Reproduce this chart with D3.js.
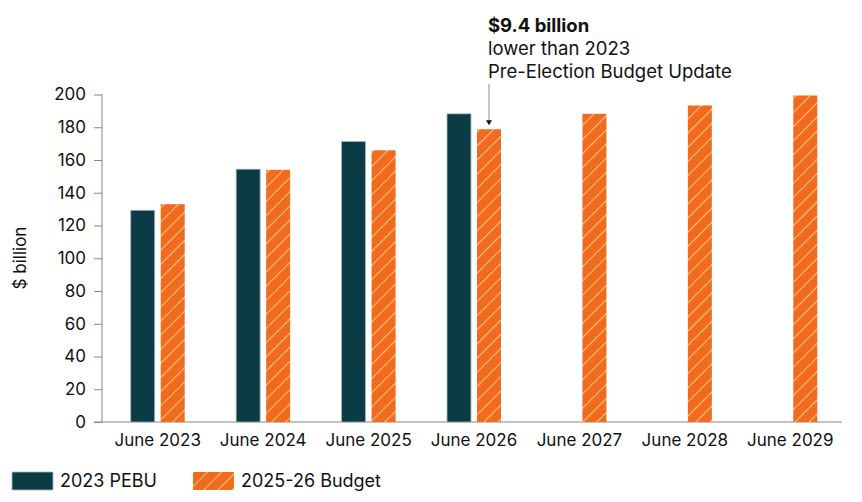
<!DOCTYPE html>
<html><head><meta charset="utf-8">
<script src="https://cdn.jsdelivr.net/npm/d3@7"></script>
<style>
body{margin:0;background:#fff;}
svg{display:block;font-family:Inter,"Noto Sans",sans-serif;}
</style></head><body>
<svg id="c" width="862" height="502"></svg>
<script>
const categories = ["June 2023","June 2024","June 2025","June 2026","June 2027","June 2028","June 2029"];
const pebu = [129.3, 154.4, 171.3, 188.2, null, null, null];
const budget = [133.0, 154.0, 165.9, 178.8, 188.2, 193.3, 199.4];
const yTicks = [0,20,40,60,80,100,120,140,160,180,200];
const seriesNames = ["2023 PEBU","2025-26 Budget"];

const DARK = "#0b3c46", ORANGE = "#f26a1b", STRIPE = "#f8c08c";
const svg = d3.select("#c");
const defs = svg.append("defs");
const pat = defs.append("pattern").attr("id","hatch").attr("patternUnits","userSpaceOnUse")
  .attr("width",10).attr("height",10).attr("patternTransform","rotate(45)");
pat.append("rect").attr("width",10).attr("height",10).attr("fill",ORANGE);
pat.append("line").attr("x1",0).attr("y1",0).attr("x2",0).attr("y2",10).attr("stroke",STRIPE).attr("stroke-width",2.2);

const x = d3.scaleBand().domain(categories).range([105,843]);
const y = d3.scaleLinear().domain([0,200]).range([422,94.5]);
const bw = 24, gap = 6;

// y axis
const ya = svg.append("g").attr("transform","translate(102,0)")
  .call(d3.axisLeft(y).tickValues(yTicks).tickSize(8).tickPadding(8));
ya.select(".domain").attr("stroke","#888").attr("d","M0,94.5V422");
ya.selectAll(".tick line").attr("stroke","#888");
ya.selectAll("text").attr("font-size",17).attr("fill","#111").attr("font-family","Inter,sans-serif");

// x axis
const xa = svg.append("g").attr("transform","translate(0,422)")
  .call(d3.axisBottom(x).tickSize(0).tickPadding(12));
xa.select(".domain").attr("stroke","#888").attr("d","M94,0H842");
xa.selectAll("text").attr("font-size",17).attr("fill","#111").attr("font-family","Inter,sans-serif");

// bars
const cx = c => x(c) + x.bandwidth()/2;
svg.append("g").selectAll("rect").data(categories.map((c,i)=>({c,v:pebu[i]})).filter(d=>d.v!=null))
  .join("rect")
  .attr("x",d=>cx(d.c)-gap/2-bw).attr("width",bw)
  .attr("y",d=>y(d.v)).attr("height",d=>y(0)-y(d.v))
  .attr("fill",DARK).attr("stroke","#a7babd").attr("stroke-width",0.8);
svg.append("g").selectAll("rect").data(categories.map((c,i)=>({c,v:budget[i]})))
  .join("rect")
  .attr("x",d=>cx(d.c)+gap/2).attr("width",bw)
  .attr("y",d=>y(d.v)).attr("height",d=>y(0)-y(d.v))
  .attr("fill","url(#hatch)");

// y label
svg.append("text").attr("transform","translate(26,258) rotate(-90)")
  .attr("text-anchor","middle").attr("font-size",17).attr("fill","#111").text("$ billion");

// annotation
const ax = cx("June 2026")+gap/2+bw/2;
svg.append("line").attr("x1",ax).attr("x2",ax).attr("y1",84).attr("y2",y(budget[3])-8)
  .attr("stroke","#b5b5b5").attr("stroke-width",1.5);
svg.append("path").attr("d",`M${ax-3},${y(budget[3])-9}L${ax+3},${y(budget[3])-9}L${ax},${y(budget[3])-4}Z`).attr("fill","#111");
const ann = svg.append("text").attr("x",488).attr("font-size",18.5).attr("fill","#111");
ann.append("tspan").attr("x",488).attr("y",32).attr("font-weight","bold").text("$9.4 billion");
ann.append("tspan").attr("x",488).attr("y",55).text("lower than 2023");
ann.append("tspan").attr("x",488).attr("y",78).text("Pre-Election Budget Update");

// legend
const lg = svg.append("g");
lg.append("rect").attr("x",12).attr("y",472).attr("width",41).attr("height",18).attr("fill",DARK).attr("stroke","#a7babd").attr("stroke-width",0.8);
lg.append("text").attr("x",60).attr("y",487).attr("font-size",18).attr("fill","#111").text(seriesNames[0]);
lg.append("rect").attr("x",193).attr("y",472).attr("width",41).attr("height",18).attr("fill","url(#hatch)");
lg.append("text").attr("x",241).attr("y",487).attr("font-size",18).attr("fill","#111").text(seriesNames[1]);
</script></body></html>
